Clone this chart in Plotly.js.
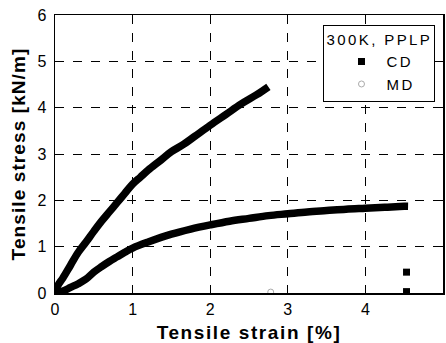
<!DOCTYPE html>
<html><head><meta charset="utf-8">
<script src="https://cdn.plot.ly/plotly-3.0.1.min.js"></script>
<style>
body{margin:0;padding:0;background:#fff;}
#chart{width:446px;height:343px;}
.xtitle{letter-spacing:1.6px;}
.ytitle{letter-spacing:1.1px;}
.legendtext,.legendtitletext{letter-spacing:2.4px;}
</style>
</head><body><div id="chart"></div>
<script>
// MD curve (upper)
const mdStrain = [0, 0.05, 0.1, 0.2, 0.3, 0.4, 0.5, 0.6, 0.7, 0.8, 0.9, 1.0, 1.1, 1.2, 1.35, 1.5, 1.65, 1.8, 2.0, 2.2, 2.4, 2.6, 2.75];
const mdStress = [0.05, 0.2, 0.32, 0.6, 0.88, 1.1, 1.33, 1.55, 1.75, 1.95, 2.15, 2.35, 2.5, 2.65, 2.85, 3.05, 3.2, 3.38, 3.62, 3.85, 4.08, 4.28, 4.45];
// CD curve (lower)
const cdStrain = [0, 0.1, 0.2, 0.3, 0.4, 0.5, 0.6, 0.7, 0.8, 0.9, 1.0, 1.2, 1.5, 1.75, 2.0, 2.25, 2.5, 2.75, 3.0, 3.25, 3.5, 3.75, 4.0, 4.25, 4.5, 4.55];
const cdStress = [0.02, 0.04, 0.12, 0.2, 0.3, 0.45, 0.57, 0.68, 0.78, 0.88, 0.97, 1.1, 1.27, 1.38, 1.47, 1.55, 1.61, 1.67, 1.71, 1.75, 1.78, 1.81, 1.83, 1.85, 1.87, 1.87];
// isolated markers
const cdPtStrain = [4.53, 4.53];
const cdPtStress = [0.45, 0.03];
const mdPtStrain = [2.78];
const mdPtStress = [0.02];

const traces = [
  {x: mdStrain, y: mdStress, mode: 'lines', line: {color: '#000', width: 7.5, shape: 'spline'}, showlegend: false, hoverinfo: 'skip'},
  {x: cdStrain, y: cdStress, mode: 'lines', line: {color: '#000', width: 7.5, shape: 'spline'}, showlegend: false, hoverinfo: 'skip'},
  {x: cdPtStrain, y: cdPtStress, mode: 'markers', name: 'CD', marker: {symbol: 'square', size: 7, color: '#000'}},
  {x: mdPtStrain, y: mdPtStress, mode: 'markers', name: 'MD', marker: {symbol: 'circle-open', size: 6, color: '#aaa', line: {width: 1, color: '#aaa'}}}
];

function axis(range, titleText, standoff, labelStandoff) {
  return {
    range: range, tickmode: 'linear', tick0: 0, dtick: 1,
    showline: true, linecolor: '#000', linewidth: 1.5, mirror: 'ticks',
    ticks: 'inside', ticklen: 5, tickcolor: '#000',
    showgrid: true, gridcolor: 'rgb(0,0,0)', gridwidth: 1, griddash: 'dash',
    zeroline: false, ticklabelstandoff: labelStandoff,
    tickfont: {family: 'Liberation Sans, Arial', size: 16, color: '#000'},
    title: {text: titleText, font: {family: 'Liberation Sans, Arial', size: 19, color: '#000', weight: 'bold'}, standoff: standoff}
  };
}

const layout = {
  width: 446, height: 343,
  margin: {l: 55, r: 2.5, t: 15, b: 50.3},
  paper_bgcolor: '#fff', plot_bgcolor: '#fff',
  xaxis: axis([0, 5], 'Tensile strain [%]', 9, 1),
  yaxis: axis([0, 6], 'Tensile stress [kN/m]', 6, 4),
  legend: {
    x: 0.692, y: 0.965, xanchor: 'left', yanchor: 'top',
    bgcolor: '#fff', bordercolor: '#000', borderwidth: 1,
    font: {family: 'Liberation Sans, Arial', size: 15, color: '#000'},
    title: {text: '300K, PPLP', font: {family: 'Liberation Sans, Arial', size: 15, color: '#000'}},
    indentation: 12, itemwidth: 40, tracegroupgap: 0
  },
  showlegend: true
};

Plotly.newPlot('chart', traces, layout, {displayModeBar: false, staticPlot: true});
</script>
</body></html>
